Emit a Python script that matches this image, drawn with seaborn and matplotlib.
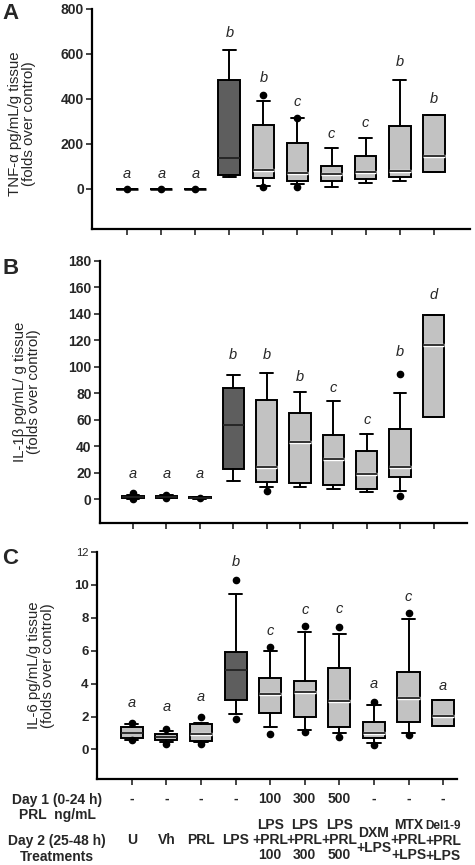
import numpy as np
import matplotlib
matplotlib.use("Agg")
import matplotlib.pyplot as plt
import matplotlib.patheffects as pe
from matplotlib.transforms import blended_transform_factory
import seaborn as sns

groups = ['U', 'Vh', 'PRL', 'LPS', 'LPS+PRL100', 'LPS+PRL300', 'LPS+PRL500',
          'DXM+LPS', 'MTX+PRL+LPS', 'Del1-9+PRL+LPS']

# TNF-alpha (panel A)
tnf_q1 = [0, 0, 0, 59, 46, 33, 33, 43, 50, 74]
tnf_med = [0, 0, 0, 135, 84, 68, 64, 73, 80, 147]
tnf_q3 = [0, 0, 0, 484, 281, 204, 99, 144, 277, 329]
tnf_lo = [0, 0, 0, 50, 13, 21, 7, 27, 33, 74]
tnf_hi = [0, 0, 0, 618, 388, 316, 181, 227, 484, 329]
tnf_out = [[0], [0], [0], [], [416, 7], [316, 6], [], [], [], []]
tnf_letters = ['a', 'a', 'a', 'b', 'b', 'c', 'c', 'c', 'b', 'b']
tnf_letter_y = [67, 67, 67, 692, 492, 384, 243, 292, 561, 398]

# IL-1beta (panel B)
il1_q1 = [0.5, 0.8, 0.5, 22.6, 13, 12, 10.5, 7.3, 17, 61.6]
il1_med = [1.5, 1.5, 1.0, 56, 24, 43, 30, 19, 24, 116]
il1_q3 = [2.5, 2.5, 1.5, 84, 75, 65, 48, 36.5, 53, 139]
il1_lo = [0.3, 0.5, 0.3, 14, 9, 9, 7.5, 5, 6.5, 61.6]
il1_hi = [3.0, 3.0, 1.8, 94, 95, 81, 74, 49, 80, 139]
il1_out = [[4.5, 0.2], [2.8, 0.8], [1.0], [], [6.5], [], [], [], [94.6, 2.3], []]
il1_letters = ['a', 'a', 'a', 'b', 'b', 'b', 'c', 'c', 'b', 'd']
il1_letter_y = [19, 19, 19, 109, 109, 92, 84, 60, 111, 154]

# IL-6 (panel C)
il6_q1 = [0.67, 0.57, 0.53, 3.0, 2.24, 2.0, 1.34, 0.67, 1.65, 1.44]
il6_med = [0.98, 0.77, 0.93, 4.84, 3.35, 3.52, 2.95, 0.98, 3.1, 2.03]
il6_q3 = [1.36, 0.93, 1.55, 5.9, 4.35, 4.17, 4.92, 1.69, 4.7, 3.0]
il6_lo = [0.6, 0.48, 0.47, 2.15, 1.34, 1.18, 1.0, 0.39, 0.98, 1.44]
il6_hi = [1.55, 1.1, 1.63, 9.43, 6.0, 7.15, 7.0, 2.7, 7.9, 3.0]
il6_out = [[1.58, 0.55], [1.26, 0.35], [2.0, 0.35], [10.3, 1.83], [6.2, 0.96],
           [7.5, 1.08], [7.42, 0.77], [2.9, 0.24], [8.3, 0.85], []]
il6_letters = ['a', 'a', 'a', 'b', 'c', 'c', 'c', 'a', 'c', 'a']
il6_letter_y = [2.85, 2.58, 3.2, 11.4, 7.2, 8.45, 8.55, 4.0, 9.25, 3.86]

day1_labels = ['-', '-', '-', '-', '100', '300', '500', '-', '-', '-']
day2_labels = ['U', 'Vh', 'PRL', 'LPS', 'LPS\n+PRL\n100', 'LPS\n+PRL\n300',
               'LPS\n+PRL\n500', 'DXM\n+LPS', 'MTX\n+PRL\n+LPS', 'Del1-9\n+PRL\n+LPS']

sns.set_style("ticks")
plt.rcParams['font.family'] = ['Liberation Sans', 'DejaVu Sans']

fig = plt.figure(figsize=(4.75, 8.65), dpi=100)

LIGHT = '#c2c2c2'
DARK = '#5e5e5e'


def draw_panel(rect, q1, med, q3, lo, hi, out, letters, letter_y, ylim, yticks,
               xlim, ylabel, label_x, label_y, tick_size):
    ax = fig.add_axes(rect)
    stats = []
    for i in range(len(groups)):
        stats.append(dict(q1=q1[i], med=med[i], q3=q3[i], whislo=lo[i],
                          whishi=hi[i], fliers=out[i], label=groups[i]))
    arts = ax.bxp(stats, positions=range(len(groups)), widths=0.64,
                  capwidths=0.38, patch_artist=True, manage_ticks=False,
                  boxprops=dict(linewidth=1.4, edgecolor='black'),
                  whiskerprops=dict(linewidth=1.4, color='black'),
                  capprops=dict(linewidth=1.4, color='black'),
                  medianprops=dict(linewidth=1.3, color='#222222'),
                  flierprops=dict(marker='o', markersize=4.5,
                                  markerfacecolor='black',
                                  markeredgecolor='black'))
    for i, box in enumerate(arts['boxes']):
        box.set_facecolor(DARK if i == 3 else LIGHT)
    for i, m in enumerate(arts['medians']):
        if i != 3 and q3[i] - q1[i] > 0.05 * (ylim[1] - ylim[0]):
            m.set_path_effects([pe.Stroke(linewidth=2.4, foreground='white'),
                                pe.Normal()])
        elif q3[i] == q1[i]:
            m.set_color('black')
            m.set_linewidth(1.8)
    for i, (t, y) in enumerate(zip(letters, letter_y)):
        ax.text(i, y, t, ha='center', va='center', style='italic',
                fontsize=10.5)
    ax.set_xlim(*xlim)
    ax.set_ylim(*ylim)
    ax.set_yticks(yticks)
    ax.set_xticks(range(len(groups)))
    ax.set_xticklabels([])
    ax.tick_params(axis='both', length=4, width=1.2, direction='out',
                   labelsize=tick_size, pad=2)
    for lab in ax.get_yticklabels():
        lab.set_fontweight('bold')
    for s in ['left', 'bottom']:
        ax.spines[s].set_linewidth(1.6)
        ax.spines[s].set_color('black')
    sns.despine(ax=ax)
    ax.spines['left'].set_bounds(ylim[0], ylim[1])
    ax.set_ylabel(ylabel, fontsize=10.8, linespacing=1.0)
    ax.yaxis.set_label_coords(label_x, label_y)
    return ax


ax_a = draw_panel([0.194, 0.735, 0.795, 0.255], tnf_q1, tnf_med, tnf_q3, tnf_lo,
                  tnf_hi, tnf_out, tnf_letters, tnf_letter_y, (-180, 800),
                  [0, 200, 400, 600, 800], (-1.03, 10.06),
                  'TNF-α pg/mL/g tissue\n(folds over control)', -0.15, 0.48, 10)

ax_b = draw_panel([0.2105, 0.3954, 0.7725, 0.3034], il1_q1, il1_med, il1_q3,
                  il1_lo, il1_hi, il1_out, il1_letters, il1_letter_y, (-18, 180),
                  list(range(0, 181, 20)), (-0.99, 10.0),
                  'IL-1β pg/mL/ g tissue\n(folds over control)', -0.16, 0.5, 10)

ax_c = draw_panel([0.204, 0.0994, 0.758, 0.2624], il6_q1, il6_med, il6_q3,
                  il6_lo, il6_hi, il6_out, il6_letters, il6_letter_y, (-1.8, 12),
                  list(range(0, 13, 2)), (-1.01, 9.4),
                  'IL-6 pg/mL/g tissue\n(folds over control)', -0.117, 0.5, 9.5)
ax_c.get_yticklabels()[-1].set_fontsize(8)
ax_c.get_yticklabels()[-1].set_fontweight('normal')

# treatment table under panel C
tr = blended_transform_factory(ax_c.transData, fig.transFigure)
for i, (d1, d2) in enumerate(zip(day1_labels, day2_labels)):
    ax_c.text(i, 0.0763, d1, transform=tr, ha='center', va='center',
              fontsize=10, fontweight='bold')
    if d2.startswith('Del'):
        first, rest = d2.split('\n', 1)
        ax_c.text(i, 0.0455, first, transform=tr, ha='center', va='center',
                  fontsize=8.5, fontweight='bold')
        ax_c.text(i, 0.019, rest, transform=tr, ha='center', va='center',
                  fontsize=10, fontweight='bold', linespacing=1.08)
    else:
        ax_c.text(i, 0.0285, d2, transform=tr, ha='center', va='center',
                  fontsize=10, fontweight='bold', linespacing=1.08)

fig.text(0.12, 0.066, 'Day 1 (0-24 h)\nPRL  ng/mL', ha='center', va='center',
         fontsize=10, fontweight='bold', linespacing=1.1)
fig.text(0.12, 0.0185, 'Day 2 (25-48 h)\nTreatments', ha='center', va='center',
         fontsize=10, fontweight='bold', linespacing=1.1)

for letter, y in zip(['A', 'B', 'C'], [0.984, 0.690, 0.354]):
    fig.text(0.022, y, letter, ha='center', va='center', fontsize=16,
             fontweight='bold')

fig.savefig('out.png', dpi=100)
